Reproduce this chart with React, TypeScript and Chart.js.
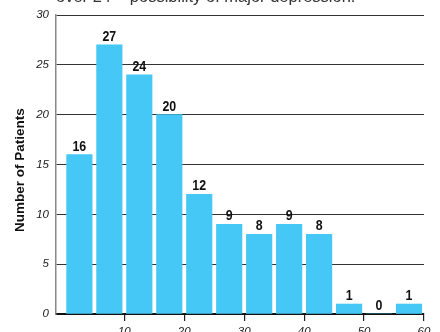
import React, { useEffect, useRef } from "react";
import { Chart, registerables } from "chart.js";

Chart.register(...registerables);

// ---- data ----
const titleText = "over 24 = possibility of major depression.";
const yAxisTitle = "Number of Patients";
const binStarts = [0, 5, 10, 15, 20, 25, 30, 35, 40, 45, 50, 55];
const binWidth = 5;
const patientCounts = [16, 27, 24, 20, 12, 9, 8, 9, 8, 1, 0, 1];
const xTickValues = [10, 20, 30, 40, 50, 60];
const yTickValues = [0, 5, 10, 15, 20, 25, 30];

const BAR_COLOR = "#45c8f5";
const SANS = "'Liberation Sans', Arial, sans-serif";

const valueLabelPlugin = {
  id: "valueLabels",
  afterDatasetsDraw(chart: any) {
    const ctx = chart.ctx;
    const meta = chart.getDatasetMeta(0);
    const ds = chart.data.datasets[0];
    const sx = 0.8;
    ctx.save();
    ctx.font = `bold 15.5px ${SANS}`;
    ctx.fillStyle = "#111";
    ctx.textAlign = "center";
    ctx.textBaseline = "alphabetic";
    meta.data.forEach((bar: any, i: number) => {
      const v = ds.data[i].y;
      ctx.save();
      ctx.translate(bar.x, bar.y - 4);
      ctx.scale(sx, 1);
      ctx.fillText(String(v), 0, 0);
      ctx.restore();
    });
    ctx.restore();
  },
};

export default function App() {
  const canvasRef = useRef<HTMLCanvasElement | null>(null);

  useEffect(() => {
    if (!canvasRef.current) return;
    const points = binStarts.map((s, i) => ({ x: s + binWidth / 2, y: patientCounts[i] }));
    const chart = new Chart(canvasRef.current, {
      type: "bar",
      data: {
        datasets: [
          {
            data: points as any,
            backgroundColor: BAR_COLOR,
            borderWidth: 0,
            barThickness: 25.5,
          },
        ],
      },
      plugins: [valueLabelPlugin],
      options: {
        responsive: false,
        animation: false,
        events: [],
        layout: { padding: { top: 15, right: 16, left: 0, bottom: 0 } },
        plugins: {
          legend: { display: false },
          tooltip: { enabled: false },
          title: { display: false },
        },
        scales: {
          x: {
            type: "linear",
            offset: false,
            min: -1.4,
            max: 60,
            afterBuildTicks: (scale: any) => {
              scale.ticks = xTickValues.map((v) => ({ value: v }));
            },
            afterFit: (scale: any) => {
              scale.height = 18;
            },
            grid: {
              offset: false,
              drawOnChartArea: false,
              drawTicks: true,
              tickLength: 7,
              color: "#222",
              lineWidth: 1.2,
            },
            border: { display: true, color: "#111", width: 2 },
            ticks: {
              color: "#222",
              padding: 4,
              maxRotation: 0,
              autoSkip: false,
              font: { family: SANS, size: 11.5, style: "italic" },
            },
          },
          y: {
            min: 0,
            max: 30,
            afterBuildTicks: (scale: any) => {
              scale.ticks = yTickValues.map((v) => ({ value: v }));
            },
            afterFit: (scale: any) => {
              scale.width = 56;
            },
            grid: {
              drawTicks: false,
              color: (c: any) => (c.tick && c.tick.value === 0 ? "rgba(0,0,0,0)" : "#333"),
              lineWidth: 1,
            },
            border: { display: true, color: "#888", width: 1.5 },
            ticks: {
              color: "#222",
              padding: 7,
              font: { family: SANS, size: 11.5, style: "italic" },
            },
            title: {
              display: true,
              text: yAxisTitle + "   ",
              color: "#111",
              padding: { top: 12, bottom: 0 },
              font: { family: SANS, size: 13.5, weight: "bold" },
            },
          },
        },
      },
    });
    return () => chart.destroy();
  }, []);

  return (
    <div style={{ position: "absolute", left: 0, top: 0, width: 440, height: 332, overflow: "hidden", background: "#fff" }}>
      <canvas ref={canvasRef} width={440} height={332} style={{ display: "block" }} />
      <div
        style={{
          position: "absolute",
          left: 56,
          top: -12,
          fontFamily: SANS,
          fontSize: 16.5,
          lineHeight: "16px",
          color: "#333",
          whiteSpace: "nowrap",
        }}
      >
        {titleText}
      </div>
    </div>
  );
}
